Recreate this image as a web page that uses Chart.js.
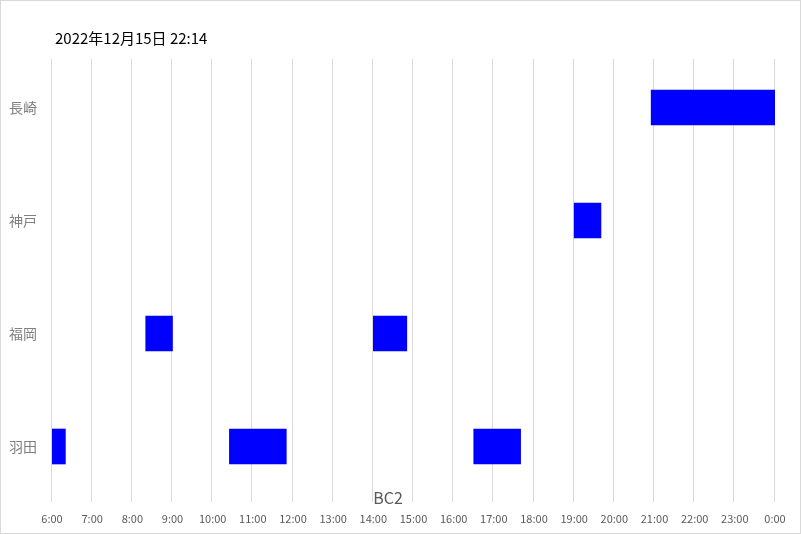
<!DOCTYPE html>
<html><head><meta charset="utf-8">
<script src="https://cdn.jsdelivr.net/npm/chart.js@4"></script>
<style>html,body{margin:0;padding:0;background:#fff}canvas{display:block}</style>
</head><body>
<canvas id="c" width="801" height="534"></canvas>
<script>
// ---- data ----
const categories = ['長崎', '神戸', '福岡', '羽田'];
const hanedaSlots   = [['6:00', '6:20'], ['10:25', '11:50'], ['16:30', '17:40']];
const fukuokaSlots  = [['8:20', '9:00'], ['14:00', '14:50']];
const kobeSlots     = [['19:00', '19:40']];
const nagasakiSlots = [['20:55', '24:00']];
const hourTickLabels = ['6:00','7:00','8:00','9:00','10:00','11:00','12:00','13:00','14:00','15:00',
  '16:00','17:00','18:00','19:00','20:00','21:00','22:00','23:00','0:00'];
const axisMinHour = 6;
const axisMaxHour = 24;
const titleText = '2022年12月15日 22:14';
const axisTitleText = 'BC2';

// ---- build ----
function toHours(s) { const [h, m] = s.split(':').map(Number); return h + m / 60; }
const slotsByCategory = { '長崎': nagasakiSlots, '神戸': kobeSlots, '福岡': fukuokaSlots, '羽田': hanedaSlots };
const points = [];
categories.forEach(cat => slotsByCategory[cat].forEach(([a, b]) => points.push({ x: [toHours(a), toHours(b)], y: cat })));

const FONT = "'Noto Sans CJK JP', 'Noto Sans', sans-serif";

const decor = {
  id: 'decor',
  beforeDatasetsDraw(chart) {
    const { ctx, chartArea, scales: { x } } = chart;
    ctx.save();
    ctx.strokeStyle = '#d9d9d9';
    ctx.lineWidth = 1;
    x.ticks.forEach(t => {
      const px = Math.floor(x.getPixelForValue(t.value)) - 0.5;
      ctx.beginPath();
      ctx.moveTo(px, chartArea.top + 8);
      ctx.lineTo(px, chartArea.bottom - 1);
      ctx.stroke();
    });
    ctx.restore();
  },
  afterDraw(chart) {
    const { ctx } = chart;
    ctx.save();
    ctx.fillStyle = '#000';
    ctx.font = '15px ' + FONT;
    ctx.textAlign = 'left';
    ctx.textBaseline = 'middle';
    ctx.fillText(titleText, 55, 38);
    ctx.fillStyle = '#595959';
    ctx.font = '16px ' + FONT;
    ctx.textAlign = 'center';
    ctx.fillText(axisTitleText, 388, 498);
    ctx.strokeStyle = '#d9d9d9';
    ctx.lineWidth = 1;
    ctx.strokeRect(0.5, 0.5, chart.width - 1, chart.height - 1);
    ctx.restore();
  }
};

new Chart(document.getElementById('c'), {
  type: 'bar',
  data: {
    labels: categories,
    datasets: [{
      data: points,
      backgroundColor: '#0000ff',
      borderWidth: 0,
      barThickness: 35
    }]
  },
  options: {
    indexAxis: 'y',
    responsive: false,
    animation: false,
    devicePixelRatio: 1,
    layout: { padding: { left: 9, top: 51, right: 26, bottom: 0 } },
    plugins: { legend: { display: false }, tooltip: { enabled: false }, title: { display: false } },
    scales: {
      x: {
        type: 'linear',
        position: 'bottom',
        min: axisMinHour,
        max: axisMaxHour,
        grid: { display: false, drawTicks: false },
        border: { display: false },
        afterFit(s) { s.height = 31; },
        ticks: {
          stepSize: 1,
          autoSkip: false,
          maxRotation: 0,
          padding: 9,
          color: '#595959',
          font: { family: FONT, size: 11 },
          callback: v => hourTickLabels[v - axisMinHour]
        }
      },
      y: {
        type: 'category',
        grid: { display: false, drawTicks: false },
        border: { display: false },
        afterFit(s) { s.width = 43; },
        ticks: {
          crossAlign: 'far',
          color: '#7f7f7f',
          font: { family: FONT, size: 14 }
        }
      }
    }
  },
  plugins: [decor]
});
</script>
</body></html>
